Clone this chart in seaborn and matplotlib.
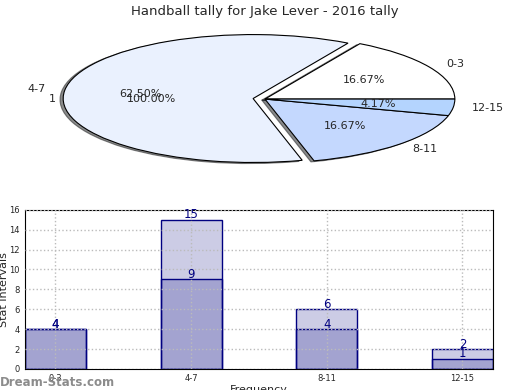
import matplotlib
matplotlib.use("Agg")
import matplotlib.pyplot as plt
import seaborn as sns
import pandas as pd

# data
categories = ["0-3", "4-7", "8-11", "12-15"]
pie_values = [4, 15, 4, 1]
pie_colors = ["#ffffff", "#eaf1fe", "#c4d8fe", "#b4d4fe"]
total_values = [4, 15, 6, 2]
lower_values = [4, 9, 4, 1]

sns.set_style("white")
plt.rcParams["font.family"] = ["DejaVu Sans"]

fig = plt.figure(figsize=(5.2, 3.9), dpi=100)

# pie on top
ax1 = fig.add_axes([0.053, 0.541, 0.913, 0.41])
# stray single-slice pie (only its texts show)
ax1.pie([1], labels=["1"], autopct="%1.2f%%", startangle=0,
        wedgeprops={"alpha": 0}, textprops={"fontsize": 8})
ax1.pie(pie_values, labels=categories, colors=pie_colors, autopct="%1.2f%%",
        explode=[0, 0.063, 0, 0], startangle=0,
        shadow={"ox": -0.012, "oy": -0.012, "shade": 0.9},
        wedgeprops={"edgecolor": "black", "linewidth": 0.8},
        textprops={"fontsize": 8})
ax1.set_aspect("auto")
ax1.set_xlim(-1.25, 1.25)
ax1.set_ylim(-1.25, 1.25)
ax1.set_title("Handball tally for Jake Lever - 2016 tally", fontsize=9.5, pad=3)

# bar chart below
ax2 = fig.add_axes([0.048, 0.054, 0.9, 0.408])
df = pd.DataFrame({"cat": categories, "total": total_values, "lower": lower_values})
sns.barplot(data=df, x="cat", y="total", order=categories, color="navy",
            width=0.45, ax=ax2)
sns.barplot(data=df, x="cat", y="lower", order=categories, color="navy",
            width=0.45, ax=ax2)
for p in ax2.patches:
    p.set_alpha(None)
    p.set_facecolor((0, 0, 0.5, 0.2))
    p.set_edgecolor((0, 0, 0.5, 1))
    p.set_linewidth(1)
for i, (t, l) in enumerate(zip(total_values, lower_values)):
    ax2.text(i, t - 0.15, str(t), ha="center", va="bottom", color="navy", fontsize=8.5)
    ax2.text(i, l - 0.15, str(l), ha="center", va="bottom", color="navy", fontsize=8.5)

ax2.set_xlim(-0.225, 3.225)
ax2.set_ylim(0, 16)
ax2.set_yticks(range(0, 17, 2))
ax2.tick_params(labelsize=6, length=2, pad=2)
ax2.set_xlabel("Frequency", fontsize=8, labelpad=1)
ax2.set_ylabel("Stat Intervals", fontsize=8)
ax2.yaxis.set_label_coords(-0.035, 0.5)
ax2.grid(True, linestyle=":", color="#bbbbbb", linewidth=1)
ax2.set_axisbelow(False)
for s in ax2.spines.values():
    s.set_color("black")
    s.set_linewidth(0.8)

fig.text(0.0, 0.01, "Dream-Stats.com", color="#8c8c8c", fontsize=8.5,
         weight="semibold")

fig.savefig("out.png", dpi=100)
